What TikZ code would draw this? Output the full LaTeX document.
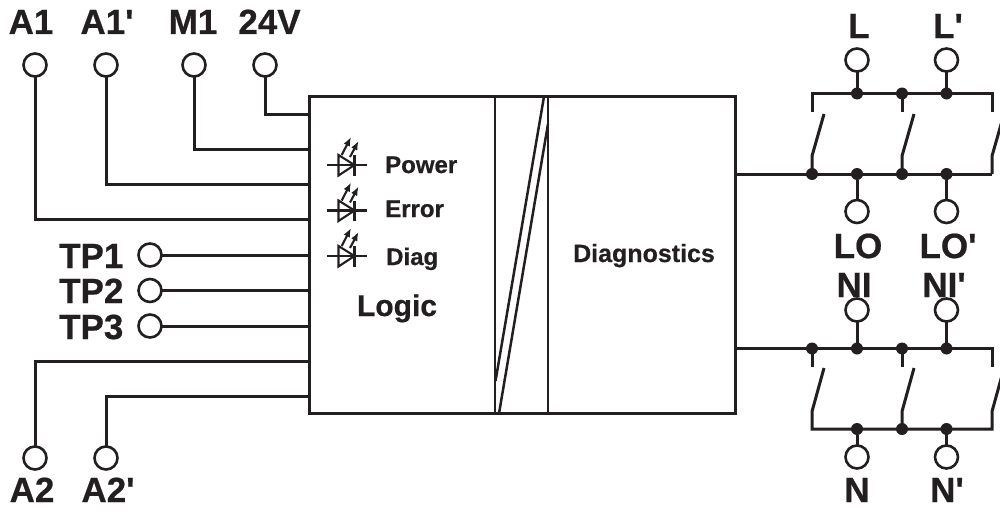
\documentclass[tikz,border=0pt]{standalone}
\usepackage{fontspec}
\newfontfamily\dgfont[BoldFeatures={FakeBold=0.6}]{Liberation Sans}
\usetikzlibrary{arrows.meta}
\definecolor{ink}{HTML}{231F20}
\tikzset{
  wire/.style={line width=3pt,color=ink,line join=miter},
  thinwire/.style={line width=2.7pt,color=ink},
  term/.style={circle,draw=ink,line width=2.6pt,fill=white,minimum size=23pt,inner sep=0pt,outer sep=0pt},
  junc/.style={circle,fill=ink,minimum size=12pt,inner sep=0pt,outer sep=0pt},
  lab/.style={font=\dgfont\fontsize{35}{35}\selectfont\bfseries,text=ink,inner sep=0pt,anchor=base},
  tplab/.style={lab,anchor=base west},
  small/.style={font=\dgfont\fontsize{24}{24}\selectfont\bfseries,text=ink,inner sep=0pt,anchor=base west},
  bigger/.style={font=\dgfont\fontsize{30}{30}\selectfont\bfseries,text=ink,inner sep=0pt,anchor=base},
  diagtext/.style={font=\dgfont\fontsize{25}{25}\selectfont\bfseries,text=ink,inner sep=0pt,anchor=base},
  blockbox/.style={draw=ink,line width=2.7pt,minimum width=426pt,minimum height=317pt,inner sep=0pt,outer sep=0pt,anchor=north west},
  ledline/.style={line width=2.1pt,color=ink},
  ledray/.style={line width=2.1pt,color=ink,-{Latex[length=9pt,width=7pt]}},
  slant/.style={line width=2.5pt,color=ink},
}
\newcommand{\ledsym}[1]{%
  \begin{scope}[shift={(0,#1)}]
    \draw[ledline] (327,0) -- (367,0);
    \draw[ledline] (338.5,-10) -- (338.5,10.5) -- (354.5,0) -- cycle;
    \draw[ledline] (354.5,-10) -- (354.5,10.5);
    \draw[ledray] (341.7,-10) -- (351,-28);
    \draw[ledray] (350,-8) -- (358.5,-24);
  \end{scope}}
\begin{document}
\begin{tikzpicture}[x=1pt,y=-1pt]
\useasboundingbox (0,0) rectangle (1000,511);
% main block
\node[blockbox] (box) at (309.5,96.5) {};
\coordinate (sepAtop) at (495,96.5);
\coordinate (sepAbot) at (495,413.5);
\coordinate (sepBtop) at (548,96.5);
\coordinate (sepBbot) at (548,413.5);
\draw[thinwire] (sepAtop) -- (sepAbot);
\draw[thinwire] (sepBtop) -- (sepBbot);
\coordinate (sl1a) at (544,96.5);
\coordinate (sl1b) at (495.5,381);
\coordinate (sl2a) at (548,124);
\coordinate (sl2b) at (499,413.5);
\draw[slant] (sl1a) -- (sl1b);
\draw[slant] (sl2a) -- (sl2b);
% left terminals
\node[term] (a1) at (35,65) {};
\node[term] (a1p) at (106,65) {};
\node[term] (m1) at (194,65) {};
\node[term] (v24) at (265,65) {};
\node[term] (tp1) at (150,255) {};
\node[term] (tp2) at (150,290.5) {};
\node[term] (tp3) at (150,326) {};
\node[term] (a2) at (35,458) {};
\node[term] (a2p) at (106,458) {};
\coordinate (pv) at (309.5,114);
\coordinate (pm) at (309.5,149);
\coordinate (pap) at (309.5,184);
\coordinate (pa) at (309.5,219.5);
\coordinate (pt1) at (309.5,255);
\coordinate (pt2) at (309.5,290.5);
\coordinate (pt3) at (309.5,326);
\coordinate (pb) at (309.5,361.5);
\coordinate (pbp) at (309.5,396.5);
\draw[wire] (v24.south) |- (pv);
\draw[wire] (m1.south) |- (pm);
\draw[wire] (a1p.south) |- (pap);
\draw[wire] (a1.south) |- (pa);
\draw[wire] (tp1.east) -- (pt1);
\draw[wire] (tp2.east) -- (pt2);
\draw[wire] (tp3.east) -- (pt3);
\draw[wire] (a2.north) |- (pb);
\draw[wire] (a2p.north) |- (pbp);
% left labels
\node[lab] (la1) at (31,34) {A1};
\node[lab] (la1p) at (107,34) {A1'};
\node[lab] (lm1) at (193,34) {M1};
\node[lab] (l24) at (269.5,34) {24V};
\node[tplab] (ltp1) at (59,268) {TP1};
\node[tplab] (ltp2) at (59,303) {TP2};
\node[tplab] (ltp3) at (59,339) {TP3};
\node[lab] (la2) at (32,502) {A2};
\node[lab] (la2p) at (108,502) {A2'};
% inner text
\ledsym{165}
\ledsym{210.5}
\ledsym{256}
\node[small] (tpower) at (385,173) {Power};
\node[small] (terror) at (385,217) {Error};
\node[small] (tdiag) at (386,265) {Diag};
\node[bigger] (tlogic) at (397,316) {Logic};
\node[diagtext] (tdiagn) at (644,262) {Diagnostics};
% right upper
\node[term] (tl) at (857,60) {};
\node[term] (tlp) at (946.5,60) {};
\node[term] (tlo) at (857,211.5) {};
\node[term] (tlop) at (946.5,211.5) {};
\node[junc] (u1) at (857,93.5) {};
\node[junc] (u2) at (902,93.5) {};
\node[junc] (u3) at (946.5,93.5) {};
\node[junc] (m0) at (812,174) {};
\node[junc] (m1j) at (857,174) {};
\node[junc] (m2) at (902,174) {};
\node[junc] (m3) at (946.5,174) {};
\coordinate (ou) at (735,174);
\coordinate (ue) at (992,174);
\coordinate (ua) at (812,111.5);
\coordinate (ub) at (902,111.5);
\coordinate (uc) at (992,111.5);
\draw[wire] (ua) -- (ua |- u1) -- (uc |- u1) -- (uc);
\draw[wire] (u2.center) -- (ub);
\draw[wire] (ou) -- (ue);
\draw[wire] (tl.south) -- (u1);
\draw[wire] (tlp.south) -- (u3);
\draw[wire] (m1j) -- (tlo.north);
\draw[wire] (m3) -- (tlop.north);
\coordinate (s1k) at (812,156);
\coordinate (s1e) at (824,114);
\coordinate (s2k) at (902,156);
\coordinate (s2e) at (914,114);
\coordinate (s3k) at (992,156);
\coordinate (s3e) at (1004,114);
\draw[wire] (m0.center) -- (s1k) -- (s1e);
\draw[wire] (m2.center) -- (s2k) -- (s2e);
\draw[wire] (ue) -- (s3k) -- (s3e);
\node[lab] (ll) at (859,38) {L};
\node[lab] (llp) at (948,38) {L'};
\node[lab] (llo) at (858,258) {LO};
\node[lab] (llop) at (948,258) {LO'};
% right lower
\node[term] (tni) at (857,310) {};
\node[term] (tnip) at (946.5,310) {};
\node[term] (tn) at (857,457) {};
\node[term] (tnp) at (946.5,457) {};
\node[junc] (v0) at (812,348.5) {};
\node[junc] (v1) at (857,348.5) {};
\node[junc] (v2) at (902,348.5) {};
\node[junc] (v3) at (946.5,348.5) {};
\node[junc] (w1) at (857,429) {};
\node[junc] (w2) at (902,429) {};
\node[junc] (w3) at (946.5,429) {};
\coordinate (ol) at (735,348.5);
\coordinate (le) at (992,348.5);
\coordinate (la) at (812,366.5);
\coordinate (lb) at (902,366.5);
\coordinate (lc) at (992,366.5);
\coordinate (bl) at (812,429);
\coordinate (br) at (992,429);
\draw[wire] (ol) -- (le) -- (lc);
\draw[wire] (v0.center) -- (la);
\draw[wire] (v2.center) -- (lb);
\coordinate (t1k) at (812,411.5);
\coordinate (t1e) at (824,368);
\coordinate (t2k) at (902,411.5);
\coordinate (t2e) at (914,368);
\coordinate (t3k) at (992,411.5);
\coordinate (t3e) at (1004,368);
\draw[wire] (t1e) -- (t1k) -- (bl) -- (br) -- (t3k) -- (t3e);
\draw[wire] (w2.center) -- (t2k) -- (t2e);
\draw[wire] (tni.south) -- (v1);
\draw[wire] (tnip.south) -- (v3);
\draw[wire] (w1) -- (tn.north);
\draw[wire] (w3) -- (tnp.north);
\node[lab] (lni) at (854,297) {NI};
\node[lab] (lnip) at (944,297) {NI'};
\node[lab] (ln) at (857,502) {N};
\node[lab] (lnp) at (947,502) {N'};
\end{tikzpicture}
\end{document}
